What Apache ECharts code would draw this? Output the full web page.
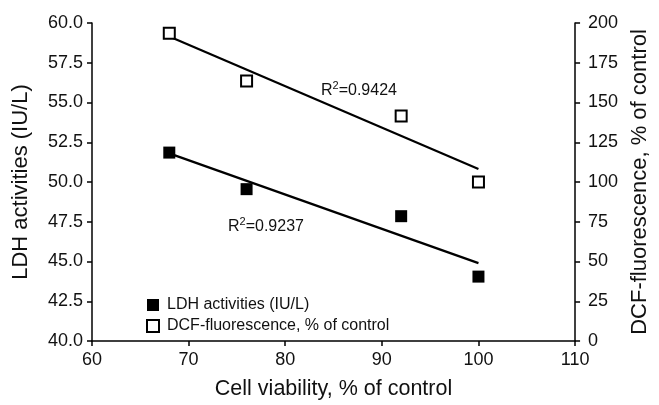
<!DOCTYPE html>
<html><head><meta charset="utf-8">
<script src="https://cdn.jsdelivr.net/npm/echarts@6/dist/echarts.min.js"></script>
<style>html,body{margin:0;padding:0;background:#fff}#c{width:659px;height:405px}</style>
</head><body><div id="c"></div>
<script>
var viability = [68, 76, 92, 100];
var ldh = [51.85, 49.55, 47.85, 44.05];
var dcf = [193.5, 163.5, 141.5, 100];
var trendX = [68, 100];
var ldhTrend = [51.8, 44.9];
var dcfTrend = [191.5, 108.2];
var r2Ldh = 'R{s|2}=0.9237';
var r2Dcf = 'R{s|2}=0.9424';
var FONT = 'Liberation Sans, Arial, sans-serif';

function pairs(xs, ys){ return xs.map(function(x,i){ return [x, ys[i]]; }); }

var chart = echarts.init(document.getElementById('c'), null, {renderer:'canvas'});
var axisLine = {show:true, lineStyle:{color:'#000', width:1.5}};
var axisTick = {show:true, inside:false, length:5, lineStyle:{color:'#000', width:1.5}};
var rich = {s:{fontSize:11, verticalAlign:'top', padding:[0,0,10,0], fontFamily:FONT, fill:'#111'}};
chart.setOption({
  animation:false,
  backgroundColor:'#fff',
  grid:{left:92, right:82, top:23, bottom:59},
  xAxis:{type:'value', min:60, max:110, interval:10,
    name:'Cell viability, % of control', nameLocation:'middle', nameGap:37,
    nameTextStyle:{fontSize:21.5, color:'#111', fontFamily:FONT},
    axisLine:axisLine, axisTick:axisTick, splitLine:{show:false},
    axisLabel:{fontSize:18, color:'#111', fontFamily:FONT, margin:10, showMinLabel:true, showMaxLabel:true}},
  yAxis:[
    {type:'value', min:40, max:60, interval:2.5, position:'left',
     name:'LDH activities (IU/L)', nameLocation:'middle', nameGap:60, nameRotate:90,
     nameTextStyle:{fontSize:22, color:'#111', fontFamily:FONT},
     axisLine:axisLine, axisTick:axisTick, splitLine:{show:false},
     axisLabel:{fontSize:18, color:'#111', fontFamily:FONT, margin:9, formatter:function(v){return v.toFixed(1);}}},
    {type:'value', min:0, max:200, interval:25, position:'right',
     name:'DCF-fluorescence, % of control', nameLocation:'middle', nameGap:53, nameRotate:90,
     nameTextStyle:{fontSize:22, color:'#111', fontFamily:FONT},
     axisLine:axisLine, axisTick:axisTick, splitLine:{show:false},
     axisLabel:{fontSize:18, color:'#111', fontFamily:FONT, margin:13}}
  ],
  legend:{orient:'vertical', left:141, top:292, itemWidth:12, itemHeight:12, itemGap:5,
    data:['LDH activities (IU/L)','DCF-fluorescence, % of control'],
    textStyle:{fontSize:16, color:'#111', fontFamily:FONT, padding:[0,0,0,3]}},
  series:[
    {type:'line', data:pairs(trendX, ldhTrend), yAxisIndex:0, showSymbol:false, symbol:'none',
     lineStyle:{color:'#000', width:2.2}, silent:true, z:1},
    {type:'line', data:pairs(trendX, dcfTrend), yAxisIndex:1, showSymbol:false, symbol:'none',
     lineStyle:{color:'#000', width:2.2}, silent:true, z:1},
    {name:'LDH activities (IU/L)', type:'scatter', yAxisIndex:0, data:pairs(viability, ldh),
     symbol:'rect', symbolSize:12, itemStyle:{color:'#000', opacity:1}, z:3},
    {name:'DCF-fluorescence, % of control', type:'scatter', yAxisIndex:1, data:pairs(viability, dcf),
     symbol:'rect', symbolSize:11, itemStyle:{color:'#fff', borderColor:'#000', borderWidth:2, opacity:1}, z:3}
  ],
  graphic:[
    {type:'text', left:321, top:80, style:{text:r2Dcf, font:'16px '+FONT, fill:'#111', rich:rich}},
    {type:'text', left:228, top:216, style:{text:r2Ldh, font:'16px '+FONT, fill:'#111', rich:rich}}
  ]
});
</script></body></html>
